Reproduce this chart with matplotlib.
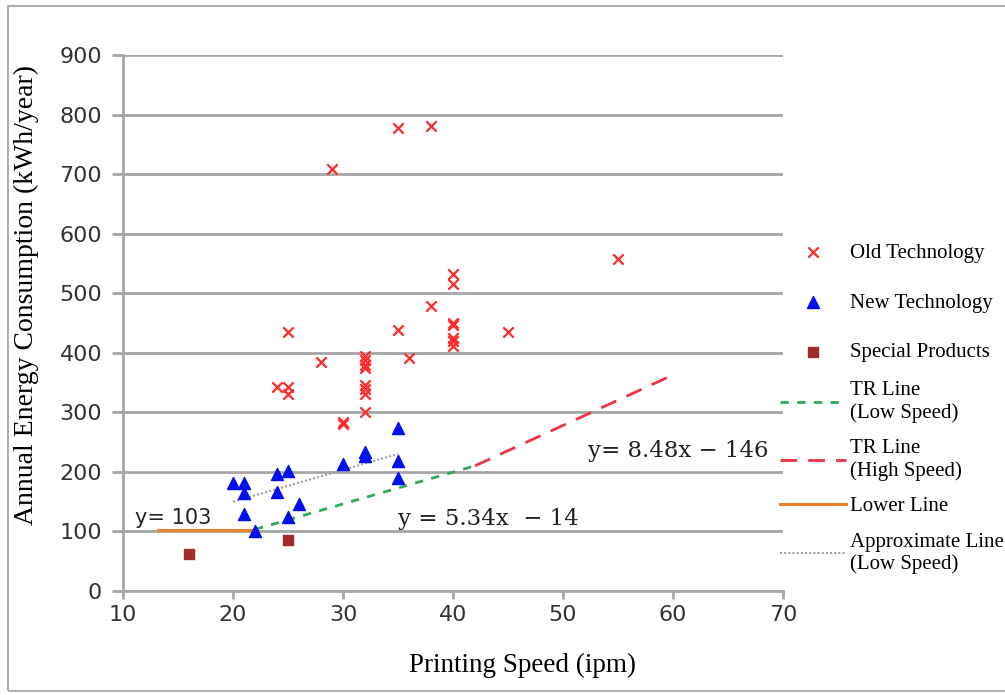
import numpy as np
import matplotlib
matplotlib.use("Agg")
import matplotlib.pyplot as plt
from matplotlib.patches import Rectangle

# Old technology (red crosses)
old_speed = [29, 35, 38, 55, 40, 40, 40, 40, 40, 40, 40, 38, 35, 25, 45, 36, 28,
             32, 32, 32, 32, 32, 32, 32, 32, 30, 30, 24, 25, 25]
old_energy = [709, 777, 780, 557, 532, 516, 450, 446, 424, 420, 412, 479, 438, 435, 435, 392, 385,
              395, 388, 380, 375, 346, 339, 331, 300, 283, 280, 343, 343, 331]

# New technology (blue triangles)
new_speed = [20, 21, 21, 21, 22, 24, 24, 25, 25, 26, 30, 32, 32, 35, 35, 35]
new_energy = [181, 181, 165, 129, 101, 196, 166, 202, 125, 146, 213, 234, 227, 273, 218, 190]

# Special products (squares)
special_speed = [16, 25]
special_energy = [62, 86]

# lines
lower_x = [13.2, 22]
lower_y = 103
tr_low = (5.34, -14)
tr_low_x = [22, 42]
tr_high = (8.48, -146)
tr_high_x = [42, 59.6]
approx_x = [20, 35]
approx_y = [150, 230]

fig = plt.figure(figsize=(10.05, 6.95), dpi=100)
ax = fig.add_axes([0.1224, 0.1496, 0.779 - 0.1224, 0.9209 - 0.1496])

grid_c = "#a6a6a6"

x = np.array(tr_low_x)
l1, = ax.plot(x, tr_low[0] * x + tr_low[1], color="#2eaa5a", ls=(0, (3, 3)), lw=2, zorder=3)
x = np.array(tr_high_x)
l2, = ax.plot(x, tr_high[0] * x + tr_high[1], color="#ee3344", ls=(0, (6, 4)), lw=2, zorder=3)
l3, = ax.plot(lower_x, [lower_y, lower_y], color="#e8832a", lw=2.2, zorder=3)
l4, = ax.plot(approx_x, approx_y, color="#a0a0a0", ls=(0, (1, 1)), lw=1.5, zorder=3)

s1 = ax.scatter(old_speed, old_energy, marker="x", s=55, color="#ff2a2a", linewidths=1.6, zorder=4)
s2 = ax.scatter(new_speed, new_energy, marker="^", s=75, color="#0010ee", zorder=4)
s3 = ax.scatter(special_speed, special_energy, marker="s", s=55, color="#a02c2c", zorder=4)

ax.set_xlim(10, 70)
ax.set_ylim(0, 900)
ax.set_xticks(range(10, 71, 10))
ax.set_yticks(range(0, 901, 100))
ax.yaxis.grid(True, color=grid_c, lw=2)
ax.set_axisbelow(True)
for s in ["top", "right"]:
    ax.spines[s].set_visible(False)
for s in ["left", "bottom"]:
    ax.spines[s].set_color(grid_c)
    ax.spines[s].set_linewidth(2)
ax.tick_params(axis="y", length=8, width=2, color=grid_c, labelsize=16,
               labelcolor="#333333", pad=7)
ax.tick_params(axis="x", length=6, width=2, color=grid_c, labelsize=16,
               labelcolor="#333333", pad=4)
for lab in ax.get_xticklabels() + ax.get_yticklabels():
    lab.set_family("DejaVu Sans")

ax.set_xlabel("Printing Speed (ipm)", family="Liberation Serif", fontsize=19.5)
ax.xaxis.set_label_coords(0.606, -0.115)
ax.set_ylabel("Annual Energy Consumption (kWh/year)", family="Liberation Serif", fontsize=20)
ax.yaxis.set_label_coords(-0.128, 0.552)

ax.text(11.1, 112, "y= 103", family="DejaVu Sans", fontsize=15, color="#222222")
ax.text(35.0, 111, "y = 5.34x  \u2212 14", family="DejaVu Serif", fontsize=16.5, color="#222222")
ax.text(52.3, 225, "y= 8.48x \u2212 146", family="DejaVu Serif", fontsize=16.5, color="#222222")

prop = {"family": "Liberation Serif", "size": 15}
leg1 = ax.legend([s1, s2, s3], ["Old Technology", "New Technology", "Special Products"],
                 loc="upper left", bbox_to_anchor=(0.995, 0.649), frameon=False, prop=prop,
                 handlelength=3.2, labelspacing=1.45, handletextpad=0.2,
                 borderaxespad=0, borderpad=0)
ax.add_artist(leg1)
ax.legend([l1, l2, l3, l4],
          ["TR Line\n(Low Speed)", "TR Line\n(High Speed)", "Lower Line",
           "Approximate Line\n(Low Speed)"],
          loc="upper left", bbox_to_anchor=(0.995, 0.391), frameon=False, prop=prop,
          handlelength=3.2, labelspacing=0.77, handletextpad=0.2,
          borderaxespad=0, borderpad=0)

fig.patches.append(Rectangle((0.008, 0.006), 1.2, 0.985, transform=fig.transFigure,
                             fill=False, edgecolor="#b0b0b0", lw=1.5))

fig.savefig("out.png", dpi=100)
